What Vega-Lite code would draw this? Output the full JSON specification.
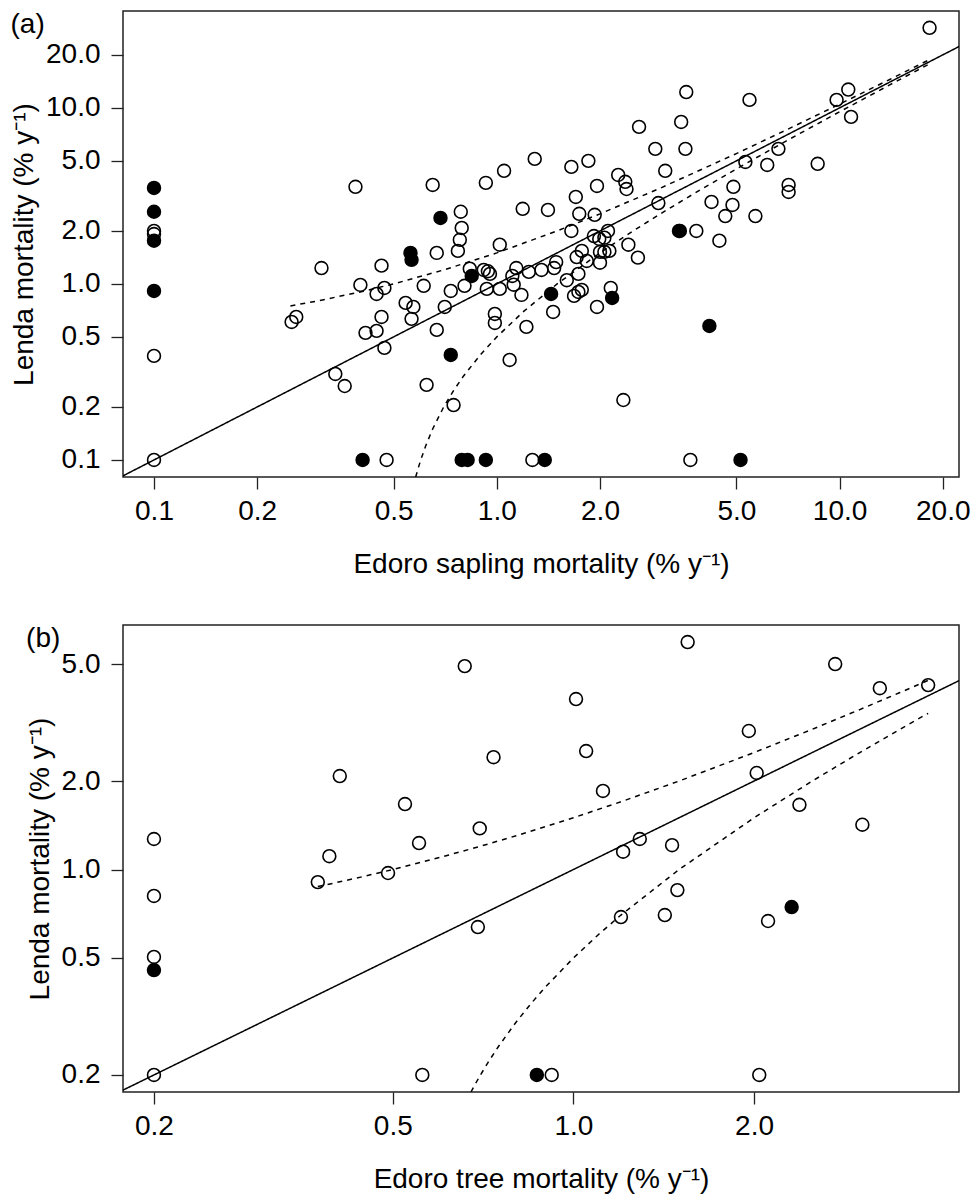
{
  "$schema": "https://vega.github.io/schema/vega-lite/v6.json",
  "description": "Lenda vs Edoro mortality, log-log scatter with 1:1 line and +/-0.5 bands",
  "background": "white",
  "padding": {"left": 9, "top": 10, "right": 0, "bottom": 0},
  "spacing": 45,
  "config": {
    "font": "Liberation Sans",
    "view": {"stroke": "#222", "strokeWidth": 1.5},
    "axis": {
      "grid": false,
      "domain": false,
      "tickColor": "#222",
      "tickSize": 12,
      "tickWidth": 1.3,
      "labelFont": "Liberation Sans",
      "labelFontSize": 28,
      "labelColor": "black",
      "labelOverlap": false,
      "titleFont": "Liberation Sans",
      "titleFontSize": 28,
      "titleFontWeight": "normal",
      "titleColor": "black",
      "format": ".1f"
    },
    "axisX": {"labelPadding": 8, "titlePadding": 25},
    "axisY": {"labelPadding": 11, "titlePadding": 7},
    "title": {
      "font": "Liberation Sans",
      "fontSize": 28,
      "fontWeight": "normal",
      "color": "black",
      "anchor": "start",
      "frame": "bounds",
      "baseline": "top",
      "offset": 0,
      "dx": 0,
      "dy": 32
    }
  },
  "datasets": {
    "a_pts": [
      {"x": 0.1, "y": 2.0, "t": "open"},
      {"x": 0.1, "y": 1.92, "t": "open"},
      {"x": 0.1, "y": 0.39, "t": "open"},
      {"x": 0.1, "y": 0.1, "t": "open"},
      {"x": 0.252, "y": 0.608, "t": "open"},
      {"x": 0.26, "y": 0.649, "t": "open"},
      {"x": 0.308, "y": 1.23, "t": "open"},
      {"x": 0.338, "y": 0.308, "t": "open"},
      {"x": 0.36, "y": 0.263, "t": "open"},
      {"x": 0.387, "y": 3.56, "t": "open"},
      {"x": 0.4, "y": 0.987, "t": "open"},
      {"x": 0.414, "y": 0.527, "t": "open"},
      {"x": 0.446, "y": 0.541, "t": "open"},
      {"x": 0.446, "y": 0.877, "t": "open"},
      {"x": 0.461, "y": 1.27, "t": "open"},
      {"x": 0.47, "y": 0.949, "t": "open"},
      {"x": 0.461, "y": 0.649, "t": "open"},
      {"x": 0.47, "y": 0.433, "t": "open"},
      {"x": 0.477, "y": 0.1, "t": "open"},
      {"x": 0.542, "y": 0.78, "t": "open"},
      {"x": 0.571, "y": 0.74, "t": "open"},
      {"x": 0.564, "y": 0.633, "t": "open"},
      {"x": 0.612, "y": 0.975, "t": "open"},
      {"x": 0.624, "y": 0.267, "t": "open"},
      {"x": 0.65, "y": 3.65, "t": "open"},
      {"x": 0.668, "y": 1.5, "t": "open"},
      {"x": 0.668, "y": 0.548, "t": "open"},
      {"x": 0.705, "y": 0.74, "t": "open"},
      {"x": 0.734, "y": 0.912, "t": "open"},
      {"x": 0.748, "y": 0.205, "t": "open"},
      {"x": 0.785, "y": 2.57, "t": "open"},
      {"x": 0.79, "y": 2.08, "t": "open"},
      {"x": 0.78, "y": 1.78, "t": "open"},
      {"x": 0.77, "y": 1.54, "t": "open"},
      {"x": 0.805, "y": 0.975, "t": "open"},
      {"x": 0.834, "y": 1.22, "t": "open"},
      {"x": 0.916, "y": 1.2, "t": "open"},
      {"x": 0.942, "y": 1.18, "t": "open"},
      {"x": 0.955, "y": 1.14, "t": "open"},
      {"x": 0.929, "y": 3.75, "t": "open"},
      {"x": 0.935, "y": 0.937, "t": "open"},
      {"x": 0.987, "y": 0.675, "t": "open"},
      {"x": 0.987, "y": 0.6, "t": "open"},
      {"x": 1.02, "y": 1.67, "t": "open"},
      {"x": 1.02, "y": 0.937, "t": "open"},
      {"x": 1.05, "y": 4.39, "t": "open"},
      {"x": 1.09, "y": 0.37, "t": "open"},
      {"x": 1.11, "y": 1.11, "t": "open"},
      {"x": 1.12, "y": 0.99, "t": "open"},
      {"x": 1.14, "y": 1.23, "t": "open"},
      {"x": 1.18, "y": 0.866, "t": "open"},
      {"x": 1.19, "y": 2.67, "t": "open"},
      {"x": 1.24, "y": 1.17, "t": "open"},
      {"x": 1.22, "y": 0.57, "t": "open"},
      {"x": 1.27, "y": 0.1, "t": "open"},
      {"x": 1.29, "y": 5.13, "t": "open"},
      {"x": 1.35, "y": 1.2, "t": "open"},
      {"x": 1.41, "y": 2.63, "t": "open"},
      {"x": 1.46, "y": 0.693, "t": "open"},
      {"x": 1.49, "y": 1.33, "t": "open"},
      {"x": 1.47, "y": 1.23, "t": "open"},
      {"x": 1.6, "y": 1.05, "t": "open"},
      {"x": 1.65, "y": 4.62, "t": "open"},
      {"x": 1.65, "y": 2.0, "t": "open"},
      {"x": 1.7, "y": 3.12, "t": "open"},
      {"x": 1.73, "y": 1.14, "t": "open"},
      {"x": 1.74, "y": 2.5, "t": "open"},
      {"x": 1.68, "y": 0.855, "t": "open"},
      {"x": 1.73, "y": 0.9, "t": "open"},
      {"x": 1.77, "y": 0.925, "t": "open"},
      {"x": 1.77, "y": 1.54, "t": "open"},
      {"x": 1.71, "y": 1.42, "t": "open"},
      {"x": 1.83, "y": 1.35, "t": "open"},
      {"x": 1.85, "y": 5.0, "t": "open"},
      {"x": 1.92, "y": 1.87, "t": "open"},
      {"x": 1.99, "y": 1.8, "t": "open"},
      {"x": 2.06, "y": 1.83, "t": "open"},
      {"x": 2.11, "y": 2.0, "t": "open"},
      {"x": 1.93, "y": 2.47, "t": "open"},
      {"x": 1.96, "y": 3.6, "t": "open"},
      {"x": 1.96, "y": 0.74, "t": "open"},
      {"x": 2.0, "y": 1.52, "t": "open"},
      {"x": 2.06, "y": 1.52, "t": "open"},
      {"x": 2.13, "y": 1.54, "t": "open"},
      {"x": 2.0, "y": 1.32, "t": "open"},
      {"x": 2.15, "y": 0.949, "t": "open"},
      {"x": 2.26, "y": 4.16, "t": "open"},
      {"x": 2.37, "y": 3.8, "t": "open"},
      {"x": 2.39, "y": 3.46, "t": "open"},
      {"x": 2.42, "y": 1.67, "t": "open"},
      {"x": 2.34, "y": 0.219, "t": "open"},
      {"x": 2.58, "y": 1.41, "t": "open"},
      {"x": 2.6, "y": 7.8, "t": "open"},
      {"x": 2.9, "y": 5.85, "t": "open"},
      {"x": 2.96, "y": 2.88, "t": "open"},
      {"x": 3.1, "y": 4.39, "t": "open"},
      {"x": 3.4, "y": 2.0, "t": "open"},
      {"x": 3.45, "y": 8.32, "t": "open"},
      {"x": 3.55, "y": 5.85, "t": "open"},
      {"x": 3.57, "y": 12.3, "t": "open"},
      {"x": 3.67, "y": 0.1, "t": "open"},
      {"x": 3.82, "y": 2.0, "t": "open"},
      {"x": 4.23, "y": 2.92, "t": "open"},
      {"x": 4.46, "y": 1.76, "t": "open"},
      {"x": 4.64, "y": 2.43, "t": "open"},
      {"x": 4.87, "y": 2.81, "t": "open"},
      {"x": 4.9, "y": 3.56, "t": "open"},
      {"x": 5.31, "y": 4.93, "t": "open"},
      {"x": 5.46, "y": 11.1, "t": "open"},
      {"x": 5.68, "y": 2.43, "t": "open"},
      {"x": 6.15, "y": 4.74, "t": "open"},
      {"x": 6.63, "y": 5.85, "t": "open"},
      {"x": 7.1, "y": 3.65, "t": "open"},
      {"x": 7.1, "y": 3.33, "t": "open"},
      {"x": 8.63, "y": 4.81, "t": "open"},
      {"x": 9.8, "y": 11.1, "t": "open"},
      {"x": 10.6, "y": 12.7, "t": "open"},
      {"x": 10.8, "y": 8.89, "t": "open"},
      {"x": 18.3, "y": 28.5, "t": "open"},
      {"x": 0.1, "y": 3.51, "t": "filled"},
      {"x": 0.1, "y": 2.57, "t": "filled"},
      {"x": 0.1, "y": 1.76, "t": "filled"},
      {"x": 0.1, "y": 0.912, "t": "filled"},
      {"x": 0.406, "y": 0.1, "t": "filled"},
      {"x": 0.56, "y": 1.5, "t": "filled"},
      {"x": 0.564, "y": 1.37, "t": "filled"},
      {"x": 0.685, "y": 2.37, "t": "filled"},
      {"x": 0.734, "y": 0.395, "t": "filled"},
      {"x": 0.79, "y": 0.1, "t": "filled"},
      {"x": 0.822, "y": 0.1, "t": "filled"},
      {"x": 0.845, "y": 1.11, "t": "filled"},
      {"x": 0.929, "y": 0.1, "t": "filled"},
      {"x": 1.38, "y": 0.1, "t": "filled"},
      {"x": 1.44, "y": 0.877, "t": "filled"},
      {"x": 2.17, "y": 0.832, "t": "filled"},
      {"x": 3.42, "y": 2.0, "t": "filled"},
      {"x": 4.17, "y": 0.577, "t": "filled"},
      {"x": 5.14, "y": 0.1, "t": "filled"}
    ],
    "a_lines": [
      {"x": 0.05, "y": 0.05, "s": "one"},
      {"x": 40, "y": 40, "s": "one"},
      {"x": 0.25, "y": 0.75, "s": "upper"},
      {"x": 0.3, "y": 0.8, "s": "upper"},
      {"x": 0.4, "y": 0.9, "s": "upper"},
      {"x": 0.5, "y": 1.0, "s": "upper"},
      {"x": 0.7, "y": 1.2, "s": "upper"},
      {"x": 1.0, "y": 1.5, "s": "upper"},
      {"x": 1.5, "y": 2.0, "s": "upper"},
      {"x": 2.0, "y": 2.5, "s": "upper"},
      {"x": 3.0, "y": 3.5, "s": "upper"},
      {"x": 5.0, "y": 5.5, "s": "upper"},
      {"x": 7.0, "y": 7.5, "s": "upper"},
      {"x": 10.0, "y": 10.5, "s": "upper"},
      {"x": 14.0, "y": 14.5, "s": "upper"},
      {"x": 18.3, "y": 18.8, "s": "upper"},
      {"x": 0.58, "y": 0.08, "s": "lower"},
      {"x": 0.59, "y": 0.09, "s": "lower"},
      {"x": 0.6, "y": 0.1, "s": "lower"},
      {"x": 0.62, "y": 0.12, "s": "lower"},
      {"x": 0.65, "y": 0.15, "s": "lower"},
      {"x": 0.7, "y": 0.2, "s": "lower"},
      {"x": 0.75, "y": 0.25, "s": "lower"},
      {"x": 0.8, "y": 0.3, "s": "lower"},
      {"x": 0.9, "y": 0.4, "s": "lower"},
      {"x": 1.0, "y": 0.5, "s": "lower"},
      {"x": 1.2, "y": 0.7, "s": "lower"},
      {"x": 1.5, "y": 1.0, "s": "lower"},
      {"x": 2.0, "y": 1.5, "s": "lower"},
      {"x": 2.5, "y": 2.0, "s": "lower"},
      {"x": 3.0, "y": 2.5, "s": "lower"},
      {"x": 4.0, "y": 3.5, "s": "lower"},
      {"x": 5.0, "y": 4.5, "s": "lower"},
      {"x": 7.0, "y": 6.5, "s": "lower"},
      {"x": 10.0, "y": 9.5, "s": "lower"},
      {"x": 14.0, "y": 13.5, "s": "lower"},
      {"x": 18.3, "y": 17.8, "s": "lower"}
    ],
    "b_pts": [
      {"x": 0.2, "y": 1.27, "t": "open"},
      {"x": 0.2, "y": 0.813, "t": "open"},
      {"x": 0.2, "y": 0.504, "t": "open"},
      {"x": 0.2, "y": 0.2, "t": "open"},
      {"x": 0.375, "y": 0.906, "t": "open"},
      {"x": 0.392, "y": 1.11, "t": "open"},
      {"x": 0.408, "y": 2.08, "t": "open"},
      {"x": 0.491, "y": 0.973, "t": "open"},
      {"x": 0.524, "y": 1.67, "t": "open"},
      {"x": 0.553, "y": 1.23, "t": "open"},
      {"x": 0.56, "y": 0.2, "t": "open"},
      {"x": 0.659, "y": 4.92, "t": "open"},
      {"x": 0.693, "y": 0.637, "t": "open"},
      {"x": 0.698, "y": 1.38, "t": "open"},
      {"x": 0.736, "y": 2.41, "t": "open"},
      {"x": 0.92, "y": 0.2, "t": "open"},
      {"x": 1.01, "y": 3.8, "t": "open"},
      {"x": 1.05, "y": 2.53, "t": "open"},
      {"x": 1.12, "y": 1.85, "t": "open"},
      {"x": 1.2, "y": 0.689, "t": "open"},
      {"x": 1.21, "y": 1.15, "t": "open"},
      {"x": 1.29, "y": 1.27, "t": "open"},
      {"x": 1.42, "y": 0.7, "t": "open"},
      {"x": 1.46, "y": 1.21, "t": "open"},
      {"x": 1.49, "y": 0.851, "t": "open"},
      {"x": 1.55, "y": 5.94, "t": "open"},
      {"x": 1.96, "y": 2.96, "t": "open"},
      {"x": 2.02, "y": 2.13, "t": "open"},
      {"x": 2.04, "y": 0.2, "t": "open"},
      {"x": 2.11, "y": 0.668, "t": "open"},
      {"x": 2.38, "y": 1.66, "t": "open"},
      {"x": 2.73, "y": 5.0, "t": "open"},
      {"x": 3.03, "y": 1.42, "t": "open"},
      {"x": 3.24, "y": 4.14, "t": "open"},
      {"x": 3.9, "y": 4.24, "t": "open"},
      {"x": 0.2, "y": 0.455, "t": "filled"},
      {"x": 0.869, "y": 0.2, "t": "filled"},
      {"x": 2.31, "y": 0.745, "t": "filled"}
    ],
    "b_lines": [
      {"x": 0.05, "y": 0.05, "s": "one"},
      {"x": 20, "y": 20, "s": "one"},
      {"x": 0.375, "y": 0.875, "s": "upper"},
      {"x": 0.4, "y": 0.9, "s": "upper"},
      {"x": 0.45, "y": 0.95, "s": "upper"},
      {"x": 0.5, "y": 1.0, "s": "upper"},
      {"x": 0.6, "y": 1.1, "s": "upper"},
      {"x": 0.7, "y": 1.2, "s": "upper"},
      {"x": 0.8, "y": 1.3, "s": "upper"},
      {"x": 1.0, "y": 1.5, "s": "upper"},
      {"x": 1.2, "y": 1.7, "s": "upper"},
      {"x": 1.5, "y": 2.0, "s": "upper"},
      {"x": 2.0, "y": 2.5, "s": "upper"},
      {"x": 2.5, "y": 3.0, "s": "upper"},
      {"x": 3.0, "y": 3.5, "s": "upper"},
      {"x": 3.5, "y": 4.0, "s": "upper"},
      {"x": 3.9, "y": 4.4, "s": "upper"},
      {"x": 0.675, "y": 0.175, "s": "lower"},
      {"x": 0.68, "y": 0.18, "s": "lower"},
      {"x": 0.69, "y": 0.19, "s": "lower"},
      {"x": 0.7, "y": 0.2, "s": "lower"},
      {"x": 0.72, "y": 0.22, "s": "lower"},
      {"x": 0.75, "y": 0.25, "s": "lower"},
      {"x": 0.8, "y": 0.3, "s": "lower"},
      {"x": 0.85, "y": 0.35, "s": "lower"},
      {"x": 0.9, "y": 0.4, "s": "lower"},
      {"x": 1.0, "y": 0.5, "s": "lower"},
      {"x": 1.1, "y": 0.6, "s": "lower"},
      {"x": 1.2, "y": 0.7, "s": "lower"},
      {"x": 1.5, "y": 1.0, "s": "lower"},
      {"x": 2.0, "y": 1.5, "s": "lower"},
      {"x": 2.5, "y": 2.0, "s": "lower"},
      {"x": 3.0, "y": 2.5, "s": "lower"},
      {"x": 3.5, "y": 3.0, "s": "lower"},
      {"x": 3.9, "y": 3.4, "s": "lower"}
    ]
  },
  "vconcat": [
    {
      "width": 836,
      "height": 466,
      "title": {"text": "(a)"},
      "layer": [
        {
          "data": {"name": "a_lines"},
          "mark": {"type": "line", "color": "black", "strokeWidth": 1.5, "clip": true},
          "encoding": {
            "x": {
              "field": "x", "type": "quantitative",
              "scale": {"type": "log", "domain": [0.0812, 22.3], "nice": false},
              "axis": {"values": [0.1, 0.2, 0.5, 1, 2, 5, 10, 20], "title": "Edoro sapling mortality (% y⁻¹)"}
            },
            "y": {
              "field": "y", "type": "quantitative",
              "scale": {"type": "log", "domain": [0.08, 35.5], "nice": false},
              "axis": {"values": [0.1, 0.2, 0.5, 1, 2, 5, 10, 20], "title": "Lenda mortality (% y⁻¹)"}
            },
            "strokeDash": {
              "field": "s", "type": "nominal",
              "scale": {"domain": ["one", "upper", "lower"], "range": [[1, 0], [5, 5], [5, 5]]},
              "legend": null
            }
          }
        },
        {
          "data": {"name": "a_pts"},
          "mark": {"type": "point", "shape": "circle", "filled": true, "stroke": "black", "strokeWidth": 1.6, "size": 165, "opacity": 1},
          "encoding": {
            "x": {"field": "x", "type": "quantitative"},
            "y": {"field": "y", "type": "quantitative"},
            "fill": {
              "field": "t", "type": "nominal",
              "scale": {"domain": ["open", "filled"], "range": ["transparent", "black"]},
              "legend": null
            }
          }
        }
      ]
    },
    {
      "width": 836,
      "height": 467,
      "title": {"text": "(b)"},
      "layer": [
        {
          "data": {"name": "b_lines"},
          "mark": {"type": "line", "color": "black", "strokeWidth": 1.5, "clip": true},
          "encoding": {
            "x": {
              "field": "x", "type": "quantitative",
              "scale": {"type": "log", "domain": [0.1776, 4.39], "nice": false},
              "axis": {"values": [0.2, 0.5, 1, 2], "title": "Edoro tree mortality (% y⁻¹)"}
            },
            "y": {
              "field": "y", "type": "quantitative",
              "scale": {"type": "log", "domain": [0.175, 6.79], "nice": false},
              "axis": {"values": [0.2, 0.5, 1, 2, 5], "title": "Lenda mortality (% y⁻¹)"}
            },
            "strokeDash": {
              "field": "s", "type": "nominal",
              "scale": {"domain": ["one", "upper", "lower"], "range": [[1, 0], [5, 5], [5, 5]]},
              "legend": null
            }
          }
        },
        {
          "data": {"name": "b_pts"},
          "mark": {"type": "point", "shape": "circle", "filled": true, "stroke": "black", "strokeWidth": 1.6, "size": 165, "opacity": 1},
          "encoding": {
            "x": {"field": "x", "type": "quantitative"},
            "y": {"field": "y", "type": "quantitative"},
            "fill": {
              "field": "t", "type": "nominal",
              "scale": {"domain": ["open", "filled"], "range": ["transparent", "black"]},
              "legend": null
            }
          }
        }
      ]
    }
  ]
}
